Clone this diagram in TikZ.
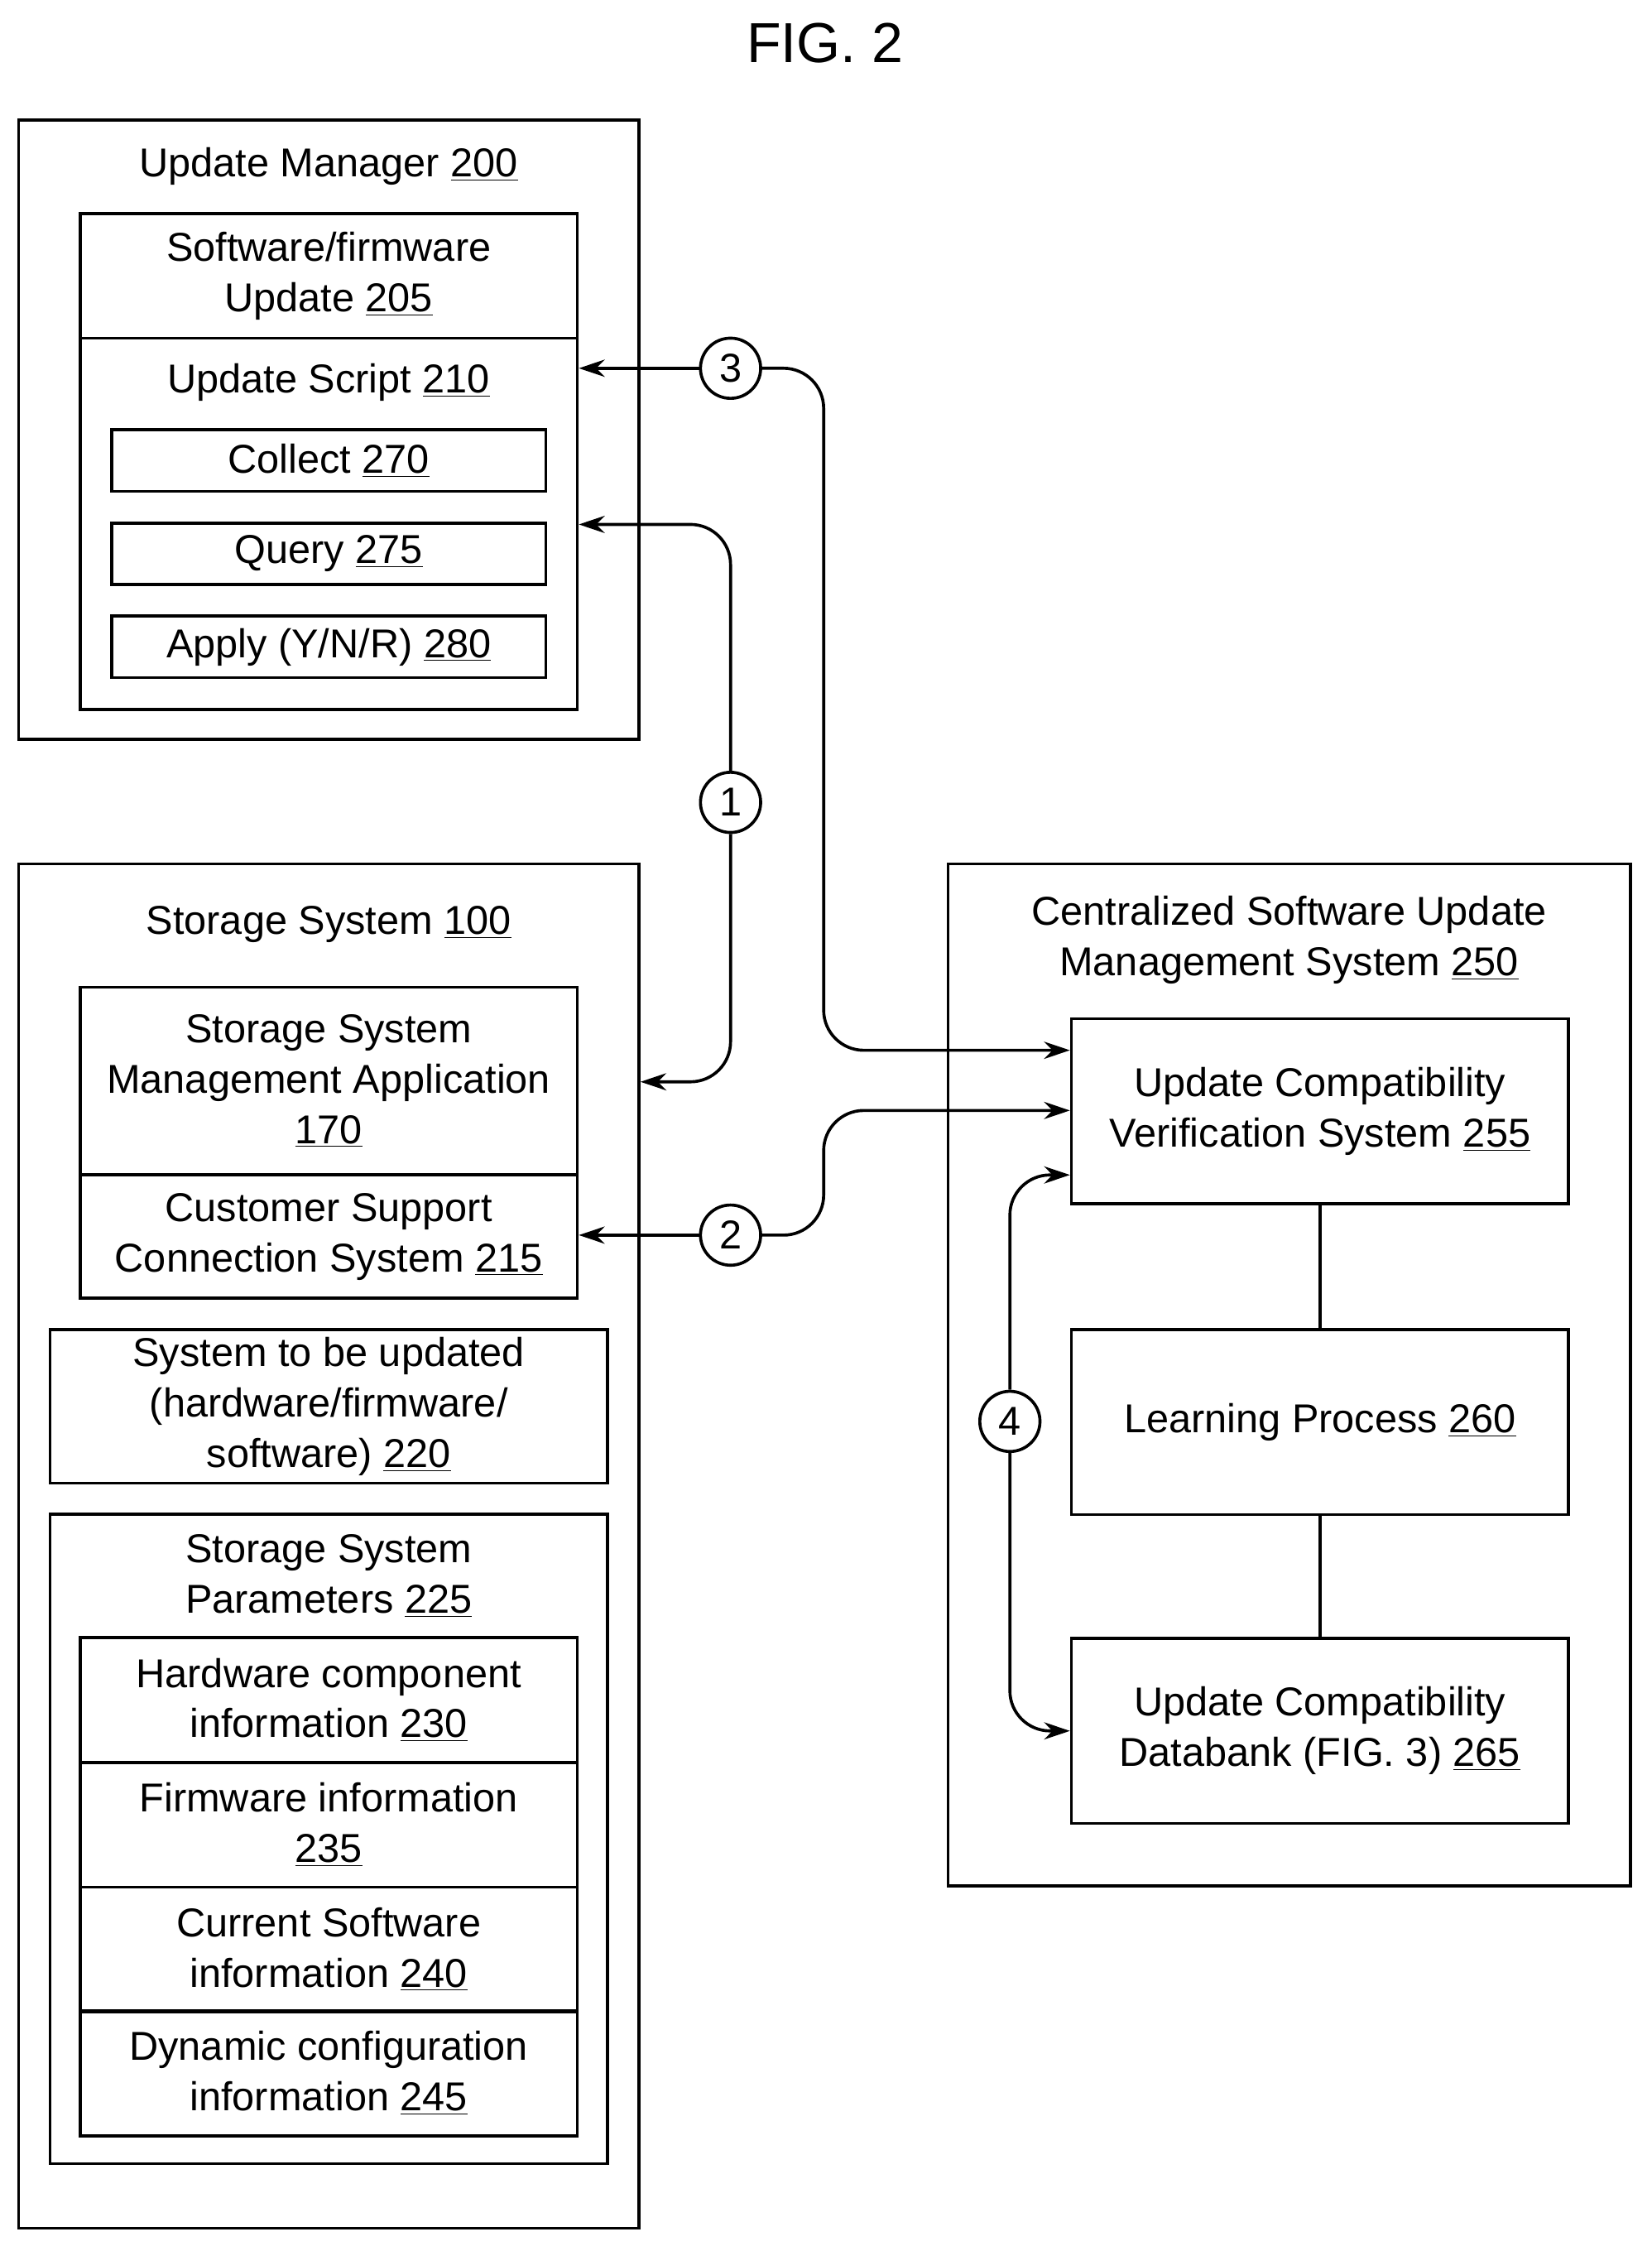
\documentclass[tikz,border=0pt]{standalone}
\usepackage{fontspec}
\setmainfont{Liberation Sans}
\usetikzlibrary{arrows.meta,positioning}
\newcommand{\refn}[1]{\underline{#1}}

\begin{document}
\begin{tikzpicture}[
    x=0.025cm, y=-0.025cm,
    every node/.style={font=\fontsize{20}{25}\selectfont},
    box/.style={rectangle, draw, line width=1.5pt, inner sep=0pt, align=center},
    lbl/.style={align=center, inner sep=0pt},
    num/.style={circle, draw, line width=1.5pt, minimum size=1.05cm, inner sep=0pt},
    arrow/.style={-{Stealth[length=0.45cm,width=0.3cm]}, line width=1.5pt, rounded corners=0.7cm}
]
    \useasboundingbox (0,0) rectangle (1153,1571);
    \node[lbl, font=\fontsize{28}{32}\selectfont] (fig) at (576,30) {FIG. 2};

    % Update manager
    \node[box, minimum width=10.825cm, minimum height=10.8cm] (um) at (229.5,300) {};
    \node[lbl] (umt) at (229.5,116) {Update Manager \refn{200}};
    \node[box, minimum width=8.675cm, minimum height=2.175cm] (sw) at (229.5,192.5) {Software/firmware\\Update \refn{205}};
    \node[box, minimum width=8.675cm, minimum height=6.475cm] (us) at (229.5,365.5) {};
    \node[lbl] (ust) at (229.5,267) {Update Script \refn{210}};
    \node[box, minimum width=7.575cm, minimum height=1.075cm] (collect) at (229.5,321.5) {Collect \refn{270}};
    \node[box, minimum width=7.575cm, minimum height=1.075cm] (query) at (229.5,386.5) {Query \refn{275}};
    \node[box, minimum width=7.575cm, minimum height=1.075cm] (apply) at (229.5,451.5) {Apply (Y/N/R) \refn{280}};

    % Storage system
    \node[box, minimum width=10.825cm, minimum height=23.8cm] (ss) at (229.5,1079) {};
    \node[lbl] (sst) at (229.5,645) {Storage System \refn{100}};
    \node[box, minimum width=8.675cm, minimum height=3.275cm] (ssma) at (229.5,754.5) {Storage System\\Management Application\\\refn{170}};
    \node[box, minimum width=8.675cm, minimum height=2.15cm] (cscs) at (229.5,863) {Customer Support\\Connection System \refn{215}};
    \node[box, minimum width=9.725cm, minimum height=2.675cm] (stu) at (229.5,981.5) {System to be updated\\(hardware/firmware/\\software) \refn{220}};
    \node[box, minimum width=9.725cm, minimum height=11.325cm] (par) at (229.5,1283.5) {};
    \node[lbl] (part) at (229.5,1100) {Storage System\\Parameters \refn{225}};
    \node[box, minimum width=8.675cm, minimum height=2.175cm] (hw) at (229.5,1186.5) {Hardware component\\information \refn{230}};
    \node[box, minimum width=8.675cm, minimum height=2.175cm] (fw) at (229.5,1273.5) {Firmware information\\\refn{235}};
    \node[box, minimum width=8.675cm, minimum height=2.175cm] (cs) at (229.5,1360.5) {Current Software\\information \refn{240}};
    \node[box, minimum width=8.675cm, minimum height=2.175cm] (dyn) at (229.5,1447) {Dynamic configuration\\information \refn{245}};

    % Centralized system
    \node[box, minimum width=11.9cm, minimum height=17.825cm] (csums) at (900,959.5) {};
    \node[lbl] (csumst) at (900,656) {Centralized Software Update\\Management System \refn{250}};
    \node[box, minimum width=8.675cm, minimum height=3.225cm] (ucvs) at (921.5,775.5) {Update Compatibility\\Verification System \refn{255}};
    \node[box, minimum width=8.675cm, minimum height=3.225cm] (lp) at (921.5,992.5) {Learning Process \refn{260}};
    \node[box, minimum width=8.675cm, minimum height=3.225cm] (db) at (921.5,1208) {Update Compatibility\\Databank (FIG. 3) \refn{265}};
    \draw[line width=1.5pt] (ucvs) -- (lp);
    \draw[line width=1.5pt] (lp) -- (db);

    % Numbered steps
    \node[num] (c3) at (510,257) {3};
    \node[num] (c1) at (510,560) {1};
    \node[num] (c2) at (510,862) {2};
    \node[num] (c4) at (705,992) {4};
    \coordinate (k1a) at (510,366);
    \coordinate (k1b) at (510,755);
    \coordinate (k3) at (575,733);
    \coordinate (k2) at (575,775);
    \coordinate (k4a) at (705,820);
    \coordinate (k4b) at (705,1208);

    % Arrows
    \draw[arrow] (c3.west) -- (us.east |- c3);
    \draw[arrow] (c3.east) -| (k3) -- (k3 -| ucvs.west);
    \draw[arrow] (c1.north) -- (k1a) -- (k1a -| us.east);
    \draw[arrow] (c1.south) -- (k1b) -- (k1b -| ss.east);
    \draw[arrow] (c2.west) -- (cscs.east |- c2);
    \draw[arrow] (c2.east) -| (k2) -- (k2 -| ucvs.west);
    \draw[arrow] (c4.north) -- (k4a) -- (k4a -| ucvs.west);
    \draw[arrow] (c4.south) -- (k4b) -- (k4b -| db.west);
\end{tikzpicture}
\end{document}
